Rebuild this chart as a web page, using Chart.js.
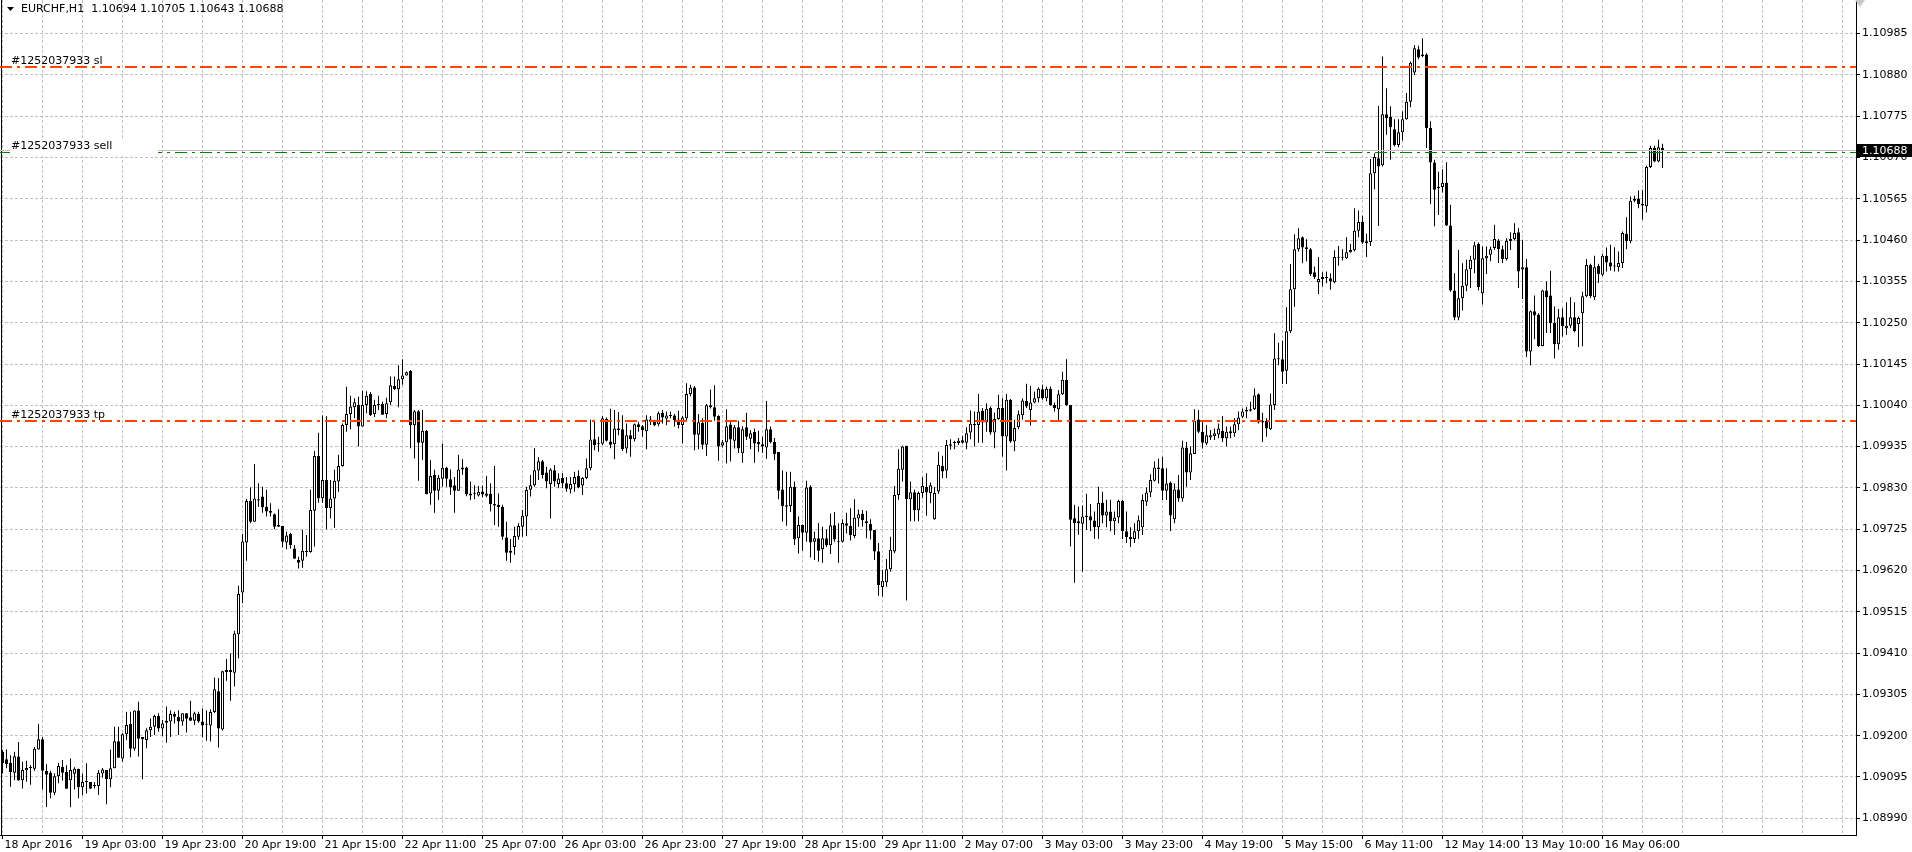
<!DOCTYPE html>
<html>
<head>
<meta charset="utf-8">
<title>EURCHF,H1</title>
<script src="https://cdn.jsdelivr.net/npm/chart.js@4.4.0/dist/chart.umd.min.js"></script>
<style>
  html, body { margin: 0; padding: 0; background: #fff; }
  #wrap { position: relative; width: 1912px; height: 852px; }
</style>
</head>
<body>
<div id="wrap"><canvas id="chart" width="1912" height="852"></canvas></div>
<script>
const symbolTitle = "EURCHF,H1";
const orderTicket = "#1252037933";

// one label every 20 hourly bars
const timeLabels = [
  "18 Apr 2016", "19 Apr 03:00", "19 Apr 23:00", "20 Apr 19:00", "21 Apr 15:00",
  "22 Apr 11:00", "25 Apr 07:00", "26 Apr 03:00", "26 Apr 23:00", "27 Apr 19:00",
  "28 Apr 15:00", "29 Apr 11:00", "2 May 07:00", "3 May 03:00", "3 May 23:00",
  "4 May 19:00", "5 May 15:00", "6 May 11:00", "12 May 14:00", "13 May 10:00",
  "16 May 06:00"
];

const priceTicks = [
  1.08990, 1.09095, 1.09200, 1.09305, 1.09410, 1.09515, 1.09620, 1.09725, 1.09830, 1.09935,
  1.10040, 1.10145, 1.10250, 1.10355, 1.10460, 1.10565, 1.10670, 1.10775, 1.10880, 1.10985
];

const opens = [
  1.09159, 1.09140, 1.09131, 1.09106, 1.09147, 1.09087, 1.09112, 1.09118, 1.09116, 1.09165,
  1.09191, 1.09110, 1.09106, 1.09055, 1.09097, 1.09121, 1.09108, 1.09087, 1.09103, 1.09116,
  1.09069, 1.09082, 1.09082, 1.09072, 1.09072, 1.09104, 1.09113, 1.09089, 1.09117, 1.09186,
  1.09142, 1.09204, 1.09230, 1.09167, 1.09264, 1.09197, 1.09189, 1.09214, 1.09223, 1.09250,
  1.09218, 1.09233, 1.09236, 1.09255, 1.09248, 1.09236, 1.09257, 1.09247, 1.09238, 1.09255,
  1.09236, 1.09228, 1.09226, 1.09260, 1.09313, 1.09216, 1.09362, 1.09362, 1.09360, 1.09458,
  1.09564, 1.09691, 1.09797, 1.09744, 1.09801, 1.09808, 1.09782, 1.09772, 1.09763, 1.09736,
  1.09733, 1.09691, 1.09713, 1.09676, 1.09647, 1.09645, 1.09670, 1.09667, 1.09772, 1.09911,
  1.09804, 1.09850, 1.09779, 1.09803, 1.09846, 1.09886, 1.09990, 1.10018, 1.10035, 1.10041,
  1.09986, 1.10041, 1.10069, 1.10018, 1.10043, 1.10043, 1.10018, 1.10048, 1.10089, 1.10081,
  1.10106, 1.10116, 1.10127, 1.09989, 1.10025, 1.09945, 1.09975, 1.09816, 1.09863, 1.09823,
  1.09853, 1.09881, 1.09852, 1.09837, 1.09823, 1.09877, 1.09882, 1.09811, 1.09815, 1.09811,
  1.09821, 1.09810, 1.09815, 1.09789, 1.09787, 1.09782, 1.09704, 1.09665, 1.09680, 1.09706,
  1.09731, 1.09757, 1.09825, 1.09837, 1.09874, 1.09898, 1.09869, 1.09840, 1.09875, 1.09840,
  1.09856, 1.09842, 1.09826, 1.09839, 1.09860, 1.09836, 1.09855, 1.09880, 1.09954, 1.09941,
  1.09942, 1.10005, 1.09948, 1.09941, 1.09981, 1.09979, 1.09930, 1.09964, 1.09954, 1.09992,
  1.09987, 1.09974, 1.10004, 1.10000, 1.09992, 1.10021, 1.10006, 1.10014, 1.10014, 1.10004,
  1.09990, 1.10007, 1.10069, 1.10085, 1.09965, 1.09995, 1.09940, 1.10040, 1.10035, 1.10013,
  1.09938, 1.09946, 1.09991, 1.09950, 1.09984, 1.09918, 1.09984, 1.09955, 1.09972, 1.09947,
  1.09941, 1.09933, 1.09979, 1.09947, 1.09921, 1.09826, 1.09782, 1.09784, 1.09833, 1.09702,
  1.09736, 1.09716, 1.09833, 1.09693, 1.09702, 1.09674, 1.09702, 1.09684, 1.09735, 1.09693,
  1.09693, 1.09740, 1.09734, 1.09708, 1.09752, 1.09764, 1.09745, 1.09738, 1.09723, 1.09669,
  1.09578, 1.09590, 1.09623, 1.09668, 1.09812, 1.09876, 1.09937, 1.09801, 1.09819, 1.09773,
  1.09817, 1.09832, 1.09817, 1.09750, 1.09821, 1.09886, 1.09874, 1.09937, 1.09944, 1.09944,
  1.09951, 1.09945, 1.09971, 1.09990, 1.09990, 1.10026, 1.09996, 1.10033, 1.09971, 1.10005,
  1.10033, 1.09961, 1.10054, 1.09948, 1.09984, 1.10015, 1.10051, 1.10028, 1.10047, 1.10058,
  1.10081, 1.10058, 1.10082, 1.10041, 1.10030, 1.10068, 1.10105, 1.10041, 1.09753, 1.09740,
  1.09739, 1.09759, 1.09758, 1.09747, 1.09730, 1.09792, 1.09760, 1.09770, 1.09745, 1.09755,
  1.09797, 1.09720, 1.09705, 1.09700, 1.09720, 1.09730, 1.09795, 1.09818, 1.09848, 1.09882,
  1.09880, 1.09823, 1.09843, 1.09750, 1.09826, 1.09803, 1.09933, 1.09869, 1.09916, 1.10004,
  1.09973, 1.09943, 1.09958, 1.09962, 1.09966, 1.09975, 1.09956, 1.09974, 1.09969, 1.09992,
  1.10011, 1.10024, 1.10026, 1.10030, 1.10068, 1.09996, 1.10001, 1.09979, 1.10041, 1.10159,
  1.10157, 1.10128, 1.10228, 1.10335, 1.10437, 1.10467, 1.10442, 1.10437, 1.10378, 1.10353,
  1.10361, 1.10363, 1.10363, 1.10353, 1.10415, 1.10415, 1.10414, 1.10429, 1.10434, 1.10484,
  1.10506, 1.10457, 1.10455, 1.10630, 1.10668, 1.10650, 1.10780, 1.10773, 1.10742, 1.10702,
  1.10734, 1.10767, 1.10812, 1.10886, 1.10945, 1.10932, 1.10932, 1.10745, 1.10657, 1.10595,
  1.10595, 1.10606, 1.10497, 1.10332, 1.10263, 1.10312, 1.10344, 1.10386, 1.10410, 1.10451,
  1.10325, 1.10414, 1.10423, 1.10440, 1.10459, 1.10437, 1.10412, 1.10458, 1.10463, 1.10480,
  1.10385, 1.10391, 1.10177, 1.10279, 1.10270, 1.10191, 1.10332, 1.10319, 1.10249, 1.10195,
  1.10264, 1.10236, 1.10242, 1.10264, 1.10247, 1.10274, 1.10317, 1.10397, 1.10315, 1.10395,
  1.10372, 1.10420, 1.10403, 1.10393, 1.10391, 1.10402, 1.10476, 1.10457, 1.10560, 1.10565,
  1.10552, 1.10546, 1.10646, 1.10694, 1.10660, 1.10694
];

const highs = [
  1.09164, 1.09165, 1.09150, 1.09159, 1.09184, 1.09134, 1.09136, 1.09125, 1.09172, 1.09230,
  1.09197, 1.09128, 1.09111, 1.09104, 1.09131, 1.09138, 1.09125, 1.09142, 1.09120, 1.09116,
  1.09104, 1.09130, 1.09082, 1.09082, 1.09113, 1.09118, 1.09113, 1.09165, 1.09223, 1.09223,
  1.09206, 1.09261, 1.09261, 1.09265, 1.09286, 1.09197, 1.09219, 1.09244, 1.09253, 1.09257,
  1.09240, 1.09274, 1.09264, 1.09261, 1.09265, 1.09257, 1.09258, 1.09289, 1.09261, 1.09261,
  1.09269, 1.09265, 1.09267, 1.09348, 1.09347, 1.09365, 1.09395, 1.09409, 1.09467, 1.09581,
  1.09713, 1.09802, 1.09831, 1.09891, 1.09842, 1.09833, 1.09825, 1.09791, 1.09765, 1.09776,
  1.09733, 1.09719, 1.09716, 1.09685, 1.09655, 1.09723, 1.09710, 1.09825, 1.09924, 1.09970,
  1.10014, 1.10012, 1.09850, 1.09876, 1.09914, 1.09994, 1.10087, 1.10064, 1.10058, 1.10062,
  1.10077, 1.10076, 1.10074, 1.10054, 1.10064, 1.10049, 1.10059, 1.10113, 1.10113, 1.10142,
  1.10157, 1.10126, 1.10130, 1.10028, 1.10028, 1.10028, 1.09977, 1.09901, 1.09876, 1.09863,
  1.09943, 1.09884, 1.09877, 1.09858, 1.09914, 1.09903, 1.09884, 1.09846, 1.09837, 1.09835,
  1.09836, 1.09860, 1.09842, 1.09886, 1.09816, 1.09787, 1.09744, 1.09700, 1.09731, 1.09740,
  1.09774, 1.09833, 1.09863, 1.09931, 1.09908, 1.09901, 1.09884, 1.09880, 1.09888, 1.09867,
  1.09867, 1.09858, 1.09858, 1.09871, 1.09875, 1.09858, 1.09905, 1.10003, 1.10003, 1.09960,
  1.10013, 1.10009, 1.10031, 1.10028, 1.10023, 1.10015, 1.09994, 1.09977, 1.09994, 1.09998,
  1.09990, 1.10015, 1.10013, 1.10003, 1.10024, 1.10028, 1.10024, 1.10024, 1.10018, 1.10026,
  1.10013, 1.10096, 1.10092, 1.10089, 1.10018, 1.10007, 1.10043, 1.10080, 1.10091, 1.10015,
  1.09952, 1.10030, 1.10002, 1.09990, 1.10001, 1.09987, 1.10021, 1.09977, 1.09981, 1.09975,
  1.09960, 1.10051, 1.09986, 1.09957, 1.09921, 1.09875, 1.09871, 1.09871, 1.09846, 1.09757,
  1.09737, 1.09848, 1.09837, 1.09719, 1.09741, 1.09731, 1.09724, 1.09765, 1.09769, 1.09740,
  1.09750, 1.09767, 1.09778, 1.09801, 1.09775, 1.09774, 1.09772, 1.09750, 1.09723, 1.09690,
  1.09622, 1.09649, 1.09706, 1.09835, 1.09928, 1.09937, 1.09937, 1.09846, 1.09825, 1.09821,
  1.09857, 1.09867, 1.09844, 1.09832, 1.09922, 1.09912, 1.09952, 1.09954, 1.09950, 1.09957,
  1.09962, 1.09984, 1.10027, 1.10024, 1.10069, 1.10033, 1.10045, 1.10037, 1.10022, 1.10067,
  1.10058, 1.10069, 1.10056, 1.10003, 1.10027, 1.10058, 1.10095, 1.10089, 1.10075, 1.10086,
  1.10092, 1.10088, 1.10088, 1.10047, 1.10079, 1.10125, 1.10157, 1.10041, 1.09787, 1.09783,
  1.09785, 1.09815, 1.09789, 1.09770, 1.09833, 1.09820, 1.09800, 1.09800, 1.09770, 1.09800,
  1.09800, 1.09770, 1.09730, 1.09740, 1.09760, 1.09814, 1.09831, 1.09865, 1.09897, 1.09905,
  1.09909, 1.09880, 1.09846, 1.09841, 1.09863, 1.09950, 1.09947, 1.09935, 1.10030, 1.10028,
  1.09998, 1.09990, 1.09977, 1.09981, 1.09994, 1.10013, 1.09986, 1.09986, 1.10007, 1.10024,
  1.10032, 1.10036, 1.10049, 1.10083, 1.10070, 1.10021, 1.10007, 1.10070, 1.10223, 1.10199,
  1.10204, 1.10289, 1.10399, 1.10475, 1.10490, 1.10469, 1.10462, 1.10440, 1.10393, 1.10417,
  1.10378, 1.10380, 1.10376, 1.10434, 1.10445, 1.10437, 1.10467, 1.10450, 1.10541, 1.10535,
  1.10522, 1.10476, 1.10666, 1.10681, 1.10801, 1.10927, 1.10846, 1.10800, 1.10767, 1.10767,
  1.10787, 1.10834, 1.10914, 1.10956, 1.10954, 1.10973, 1.10935, 1.10762, 1.10664, 1.10634,
  1.10640, 1.10658, 1.10550, 1.10376, 1.10435, 1.10401, 1.10410, 1.10420, 1.10456, 1.10454,
  1.10444, 1.10444, 1.10444, 1.10499, 1.10463, 1.10446, 1.10465, 1.10480, 1.10503, 1.10491,
  1.10461, 1.10412, 1.10281, 1.10319, 1.10274, 1.10334, 1.10355, 1.10382, 1.10291, 1.10285,
  1.10287, 1.10302, 1.10315, 1.10302, 1.10266, 1.10329, 1.10412, 1.10400, 1.10420, 1.10400,
  1.10425, 1.10441, 1.10448, 1.10442, 1.10431, 1.10482, 1.10518, 1.10571, 1.10573, 1.10586,
  1.10588, 1.10649, 1.10700, 1.10700, 1.10715, 1.10705
];

const lows = [
  1.09104, 1.09117, 1.09070, 1.09087, 1.09086, 1.09066, 1.09083, 1.09075, 1.09111, 1.09165,
  1.09063, 1.09019, 1.09041, 1.09049, 1.09079, 1.09086, 1.09065, 1.09018, 1.09063, 1.09041,
  1.09049, 1.09053, 1.09065, 1.09066, 1.09049, 1.09093, 1.09026, 1.09069, 1.09117, 1.09144,
  1.09134, 1.09189, 1.09145, 1.09162, 1.09147, 1.09089, 1.09168, 1.09197, 1.09202, 1.09210,
  1.09199, 1.09182, 1.09197, 1.09231, 1.09202, 1.09225, 1.09208, 1.09238, 1.09227, 1.09233,
  1.09196, 1.09187, 1.09185, 1.09258, 1.09170, 1.09213, 1.09340, 1.09289, 1.09325, 1.09397,
  1.09537, 1.09645, 1.09740, 1.09744, 1.09782, 1.09767, 1.09757, 1.09757, 1.09725, 1.09731,
  1.09679, 1.09674, 1.09676, 1.09650, 1.09625, 1.09627, 1.09655, 1.09665, 1.09681, 1.09792,
  1.09792, 1.09725, 1.09752, 1.09729, 1.09820, 1.09884, 1.09973, 1.09979, 1.10007, 1.09935,
  1.09986, 1.10020, 1.10013, 1.10010, 1.10028, 1.10016, 1.10007, 1.10041, 1.10079, 1.10035,
  1.10092, 1.10116, 1.09931, 1.09905, 1.09848, 1.09901, 1.09814, 1.09787, 1.09767, 1.09799,
  1.09833, 1.09833, 1.09812, 1.09767, 1.09823, 1.09863, 1.09809, 1.09799, 1.09801, 1.09808,
  1.09806, 1.09806, 1.09770, 1.09736, 1.09731, 1.09698, 1.09645, 1.09640, 1.09660, 1.09698,
  1.09706, 1.09708, 1.09808, 1.09833, 1.09850, 1.09854, 1.09829, 1.09752, 1.09833, 1.09829,
  1.09829, 1.09820, 1.09816, 1.09820, 1.09829, 1.09812, 1.09852, 1.09875, 1.09926, 1.09922,
  1.09939, 1.09948, 1.09931, 1.09903, 1.09964, 1.09924, 1.09918, 1.09909, 1.09948, 1.09973,
  1.09960, 1.09928, 1.09990, 1.09987, 1.09987, 1.09994, 1.09989, 1.10007, 1.09986, 1.09981,
  1.09943, 1.10002, 1.10063, 1.09926, 1.09928, 1.09928, 1.09911, 1.10032, 1.10001, 1.09899,
  1.09933, 1.09892, 1.09897, 1.09930, 1.09919, 1.09894, 1.09952, 1.09928, 1.09894, 1.09922,
  1.09919, 1.09904, 1.09943, 1.09901, 1.09801, 1.09744, 1.09734, 1.09769, 1.09685, 1.09663,
  1.09670, 1.09693, 1.09653, 1.09647, 1.09642, 1.09640, 1.09680, 1.09662, 1.09693, 1.09640,
  1.09691, 1.09714, 1.09696, 1.09702, 1.09731, 1.09731, 1.09702, 1.09699, 1.09647, 1.09556,
  1.09554, 1.09579, 1.09617, 1.09664, 1.09800, 1.09846, 1.09544, 1.09745, 1.09745, 1.09745,
  1.09804, 1.09759, 1.09791, 1.09749, 1.09815, 1.09855, 1.09855, 1.09927, 1.09928, 1.09939,
  1.09942, 1.09928, 1.09954, 1.09935, 1.09945, 1.09945, 1.09973, 1.09965, 1.09931, 1.10003,
  1.09910, 1.09874, 1.09945, 1.09923, 1.09979, 1.10003, 1.10033, 1.09988, 1.10045, 1.10047,
  1.10054, 1.10050, 1.10039, 1.10024, 1.09999, 1.10066, 1.10039, 1.09681, 1.09589, 1.09711,
  1.09617, 1.09723, 1.09720, 1.09700, 1.09700, 1.09740, 1.09730, 1.09720, 1.09710, 1.09740,
  1.09700, 1.09690, 1.09680, 1.09690, 1.09700, 1.09710, 1.09784, 1.09807, 1.09846, 1.09841,
  1.09799, 1.09799, 1.09720, 1.09740, 1.09795, 1.09795, 1.09833, 1.09850, 1.09916, 1.09969,
  1.09930, 1.09939, 1.09952, 1.09952, 1.09956, 1.09947, 1.09936, 1.09956, 1.09960, 1.09977,
  1.10007, 1.10007, 1.10024, 1.10028, 1.09994, 1.09947, 1.09960, 1.09977, 1.10028, 1.10142,
  1.10094, 1.10094, 1.10224, 1.10290, 1.10431, 1.10401, 1.10406, 1.10369, 1.10361, 1.10323,
  1.10342, 1.10350, 1.10334, 1.10350, 1.10395, 1.10408, 1.10412, 1.10428, 1.10431, 1.10467,
  1.10450, 1.10417, 1.10445, 1.10589, 1.10496, 1.10647, 1.10728, 1.10664, 1.10698, 1.10696,
  1.10713, 1.10766, 1.10798, 1.10880, 1.10920, 1.10925, 1.10694, 1.10552, 1.10495, 1.10524,
  1.10581, 1.10496, 1.10329, 1.10256, 1.10256, 1.10281, 1.10330, 1.10338, 1.10376, 1.10332,
  1.10296, 1.10374, 1.10406, 1.10435, 1.10402, 1.10402, 1.10408, 1.10435, 1.10459, 1.10338,
  1.10310, 1.10163, 1.10141, 1.10208, 1.10188, 1.10190, 1.10224, 1.10224, 1.10159, 1.10181,
  1.10215, 1.10219, 1.10236, 1.10226, 1.10188, 1.10190, 1.10315, 1.10313, 1.10308, 1.10351,
  1.10368, 1.10380, 1.10383, 1.10380, 1.10380, 1.10389, 1.10437, 1.10452, 1.10556, 1.10541,
  1.10512, 1.10530, 1.10643, 1.10658, 1.10658, 1.10643
];

const closes = [
  1.09130, 1.09128, 1.09108, 1.09148, 1.09086, 1.09113, 1.09118, 1.09119, 1.09167, 1.09191,
  1.09111, 1.09101, 1.09055, 1.09097, 1.09123, 1.09106, 1.09065, 1.09113, 1.09116, 1.09069,
  1.09082, 1.09083, 1.09065, 1.09072, 1.09106, 1.09114, 1.09089, 1.09117, 1.09186, 1.09144,
  1.09204, 1.09227, 1.09167, 1.09264, 1.09192, 1.09191, 1.09214, 1.09223, 1.09250, 1.09218,
  1.09231, 1.09238, 1.09255, 1.09248, 1.09236, 1.09257, 1.09243, 1.09238, 1.09257, 1.09236,
  1.09226, 1.09228, 1.09260, 1.09318, 1.09218, 1.09364, 1.09367, 1.09367, 1.09460, 1.09560,
  1.09694, 1.09797, 1.09744, 1.09803, 1.09798, 1.09781, 1.09770, 1.09767, 1.09731, 1.09731,
  1.09693, 1.09709, 1.09684, 1.09650, 1.09640, 1.09670, 1.09667, 1.09774, 1.09911, 1.09804,
  1.09850, 1.09779, 1.09803, 1.09848, 1.09886, 1.09990, 1.10018, 1.10037, 1.10048, 1.09986,
  1.10041, 1.10064, 1.10015, 1.10041, 1.10040, 1.10016, 1.10045, 1.10091, 1.10081, 1.10106,
  1.10116, 1.10124, 1.09989, 1.10025, 1.09945, 1.09975, 1.09814, 1.09860, 1.09823, 1.09856,
  1.09881, 1.09853, 1.09831, 1.09823, 1.09877, 1.09882, 1.09813, 1.09816, 1.09816, 1.09820,
  1.09813, 1.09816, 1.09789, 1.09785, 1.09781, 1.09706, 1.09665, 1.09670, 1.09708, 1.09733,
  1.09759, 1.09825, 1.09837, 1.09875, 1.09898, 1.09863, 1.09846, 1.09877, 1.09846, 1.09854,
  1.09842, 1.09828, 1.09840, 1.09858, 1.09831, 1.09855, 1.09880, 1.09953, 1.09939, 1.09941,
  1.10007, 1.09950, 1.09940, 1.09981, 1.09977, 1.09929, 1.09964, 1.09954, 1.09992, 1.09985,
  1.09977, 1.10004, 1.09998, 1.09989, 1.10020, 1.10009, 1.10014, 1.10013, 1.10002, 1.09990,
  1.10009, 1.10069, 1.10085, 1.09965, 1.09997, 1.09940, 1.10040, 1.10035, 1.10011, 1.09935,
  1.09946, 1.09987, 1.09953, 1.09984, 1.09930, 1.09979, 1.09960, 1.09969, 1.09943, 1.09941,
  1.09935, 1.09979, 1.09947, 1.09916, 1.09823, 1.09784, 1.09786, 1.09833, 1.09699, 1.09736,
  1.09716, 1.09831, 1.09691, 1.09702, 1.09670, 1.09702, 1.09684, 1.09735, 1.09699, 1.09692,
  1.09741, 1.09734, 1.09710, 1.09754, 1.09763, 1.09748, 1.09740, 1.09721, 1.09668, 1.09583,
  1.09594, 1.09623, 1.09673, 1.09812, 1.09879, 1.09935, 1.09801, 1.09819, 1.09773, 1.09817,
  1.09835, 1.09818, 1.09837, 1.09817, 1.09889, 1.09872, 1.09939, 1.09941, 1.09944, 1.09950,
  1.09945, 1.09969, 1.09993, 1.09990, 1.10024, 1.09996, 1.10031, 1.09971, 1.10005, 1.10033,
  1.09961, 1.10054, 1.09948, 1.09982, 1.10017, 1.10052, 1.10037, 1.10047, 1.10058, 1.10082,
  1.10058, 1.10082, 1.10041, 1.10033, 1.10068, 1.10105, 1.10041, 1.09749, 1.09740, 1.09745,
  1.09757, 1.09756, 1.09747, 1.09730, 1.09792, 1.09760, 1.09770, 1.09745, 1.09755, 1.09797,
  1.09720, 1.09705, 1.09700, 1.09720, 1.09748, 1.09799, 1.09818, 1.09850, 1.09882, 1.09878,
  1.09823, 1.09841, 1.09760, 1.09826, 1.09803, 1.09933, 1.09869, 1.09918, 1.10001, 1.09973,
  1.09945, 1.09964, 1.09964, 1.09969, 1.09981, 1.09956, 1.09973, 1.09969, 1.09992, 1.10009,
  1.10024, 1.10028, 1.10030, 1.10065, 1.09996, 1.10001, 1.09981, 1.10042, 1.10159, 1.10157,
  1.10125, 1.10228, 1.10335, 1.10437, 1.10465, 1.10441, 1.10437, 1.10374, 1.10366, 1.10361,
  1.10366, 1.10366, 1.10355, 1.10417, 1.10417, 1.10415, 1.10429, 1.10435, 1.10484, 1.10506,
  1.10454, 1.10452, 1.10630, 1.10671, 1.10647, 1.10780, 1.10770, 1.10747, 1.10702, 1.10734,
  1.10767, 1.10812, 1.10911, 1.10948, 1.10924, 1.10928, 1.10745, 1.10657, 1.10588, 1.10592,
  1.10606, 1.10497, 1.10332, 1.10263, 1.10312, 1.10344, 1.10386, 1.10410, 1.10447, 1.10341,
  1.10414, 1.10420, 1.10437, 1.10463, 1.10437, 1.10412, 1.10458, 1.10463, 1.10478, 1.10380,
  1.10391, 1.10177, 1.10279, 1.10268, 1.10191, 1.10332, 1.10315, 1.10249, 1.10195, 1.10264,
  1.10241, 1.10242, 1.10264, 1.10229, 1.10262, 1.10317, 1.10397, 1.10317, 1.10391, 1.10374,
  1.10420, 1.10403, 1.10393, 1.10393, 1.10402, 1.10478, 1.10457, 1.10560, 1.10565, 1.10552,
  1.10548, 1.10646, 1.10694, 1.10660, 1.10696, 1.10688
];

// trade levels shown on the chart
const slPrice = 1.10900;
const tpPrice = 1.10000;
const sellPrice = 1.10684;

const FONT = '"DejaVu Sans", Verdana, sans-serif';
const GRID = '#c0c0c0';
const lastIdx = closes.length - 1;
const bidPrice = closes[lastIdx];

if (opens.length !== closes.length || highs.length !== closes.length || lows.length !== closes.length) {
  console.error("OHLC arrays differ in length", opens.length, highs.length, lows.length, closes.length);
}

// 4px per bar, chart area 0..1856
const xMin = -0.625;
const xMax = xMin + 1856 / 4;
const yMin = 1.0894754;
const yMax = 1.1107044;

const xGridIdx = [];
for (let v = 0; v <= xMax; v += 10) xGridIdx.push(v);

const bodies = closes.map((c, i) => ({ x: i, y: [opens[i], c] }));
const wicks = closes.map((c, i) => ({
  x: i,
  y: [Math.min(lows[i], opens[i], c), Math.max(highs[i], opens[i], c)]
}));
const bodyColors = closes.map((c, i) => (c >= opens[i] ? '#ffffff' : '#000000'));

function hLine(ctx, y, x0, x1, color, dash, width) {
  ctx.save();
  ctx.strokeStyle = color;
  ctx.lineWidth = width;
  ctx.setLineDash(dash);
  const yy = width % 2 ? Math.round(y) + 0.5 : Math.round(y);
  ctx.beginPath();
  ctx.moveTo(x0, yy);
  ctx.lineTo(x1, yy);
  ctx.stroke();
  ctx.restore();
}

const mt4Overlay = {
  id: 'mt4Overlay',
  afterDatasetsDraw(chart) {
    const { ctx, chartArea: area, scales: { y } } = chart;
    const dashDot = [12, 5, 3, 5];

    // left frame
    ctx.fillStyle = '#000';
    ctx.fillRect(1, area.top, 1, area.bottom - area.top);

    hLine(ctx, y.getPixelForValue(bidPrice), area.left, area.right, GRID, [], 1);
    hLine(ctx, y.getPixelForValue(sellPrice), area.left, area.right, '#008000', dashDot, 1);
    hLine(ctx, y.getPixelForValue(slPrice), area.left, area.right, '#ff4500', dashDot, 2);
    hLine(ctx, y.getPixelForValue(tpPrice), area.left, area.right, '#ff4500', dashDot, 2);

    ctx.save();
    ctx.font = '11px ' + FONT;
    ctx.textBaseline = 'alphabetic';
    ctx.textAlign = 'left';
    // sell label sits on a white box that hides the lines behind it
    const sy = Math.round(y.getPixelForValue(sellPrice));
    ctx.fillStyle = '#fff';
    ctx.fillRect(10, sy - 12, 148, 16);
    ctx.fillStyle = '#000';
    ctx.fillText(orderTicket + ' sl', 11, Math.round(y.getPixelForValue(slPrice)) - 3);
    ctx.fillText(orderTicket + ' sell', 11, sy - 3);
    ctx.fillText(orderTicket + ' tp', 11, Math.round(y.getPixelForValue(tpPrice)) - 3);
    ctx.restore();
  },
  afterDraw(chart) {
    const { ctx, chartArea: area, scales: { y } } = chart;
    ctx.save();
    // symbol header
    ctx.fillStyle = '#000';
    ctx.beginPath();
    ctx.moveTo(7, 7);
    ctx.lineTo(14, 7);
    ctx.lineTo(10.5, 11);
    ctx.closePath();
    ctx.fill();
    ctx.font = '11px ' + FONT;
    ctx.textBaseline = 'middle';
    ctx.fillText(symbolTitle + '  ' + [opens[lastIdx], highs[lastIdx], lows[lastIdx], closes[lastIdx]]
      .map(v => v.toFixed(5)).join(' '), 21, 9);

    // chart shift marker at the top of the price scale
    ctx.fillStyle = '#c8c8c8';
    ctx.beginPath();
    ctx.moveTo(area.right - 1, 0);
    ctx.lineTo(area.right + 9, 0);
    ctx.lineTo(area.right + 4, 7);
    ctx.closePath();
    ctx.fill();

    // current price box on the price scale
    const by = Math.round(y.getPixelForValue(bidPrice));
    ctx.fillStyle = '#000';
    ctx.fillRect(1857, by - 6, 55, 13);
    ctx.fillStyle = '#fff';
    ctx.fillText(bidPrice.toFixed(5), 1862, by + 1);
    ctx.restore();
  }
};

Chart.defaults.font.family = FONT;
Chart.defaults.font.size = 11;
Chart.defaults.color = '#000';

new Chart(document.getElementById('chart'), {
  type: 'bar',
  data: {
    datasets: [
      {
        label: 'body',
        data: bodies,
        backgroundColor: bodyColors,
        borderColor: '#000',
        borderWidth: 1,
        borderSkipped: false,
        barThickness: 3,
        minBarLength: 1,
        inflateAmount: 0,
        grouped: false
      },
      {
        label: 'wick',
        data: wicks,
        backgroundColor: '#000',
        borderWidth: 0,
        barThickness: 1,
        minBarLength: 1,
        inflateAmount: 0,
        grouped: false
      }
    ]
  },
  options: {
    responsive: false,
    animation: false,
    devicePixelRatio: 1,
    layout: { padding: 0 },
    plugins: {
      legend: { display: false },
      tooltip: { enabled: false }
    },
    scales: {
      x: {
        type: 'linear',
        position: 'bottom',
        min: xMin,
        max: xMax,
        offset: false,
        afterBuildTicks: (s) => { s.ticks = xGridIdx.map(v => ({ value: v })); },
        afterFit: (s) => { s.height = 17; s.paddingLeft = 0; s.paddingRight = 0; },
        grid: {
          color: GRID,
          offset: false,
          tickLength: 4,
          tickColor: (c) => (c.tick && c.tick.value % 20 === 0 && timeLabels[c.tick.value / 20]) ? '#000' : 'rgba(0,0,0,0)'
        },
        border: { display: true, color: '#000', width: 1, dash: [3, 2] },
        ticks: {
          autoSkip: false,
          maxRotation: 0,
          align: 'start',
          labelOffset: 2,
          padding: 0,
          callback: (v) => (v % 20 === 0 && timeLabels[v / 20]) ? timeLabels[v / 20] : ''
        }
      },
      y: {
        position: 'right',
        min: yMin,
        max: yMax,
        afterBuildTicks: (s) => { s.ticks = priceTicks.map(v => ({ value: v })); },
        afterFit: (s) => { s.width = 56; s.paddingTop = 0; s.paddingBottom = 0; },
        grid: { color: GRID, tickLength: 4, tickColor: '#000' },
        border: { display: true, color: '#000', width: 1, dash: [3, 2] },
        ticks: { padding: 2, callback: (v) => v.toFixed(5) }
      }
    }
  },
  plugins: [mt4Overlay]
});
</script>
</body>
</html>
